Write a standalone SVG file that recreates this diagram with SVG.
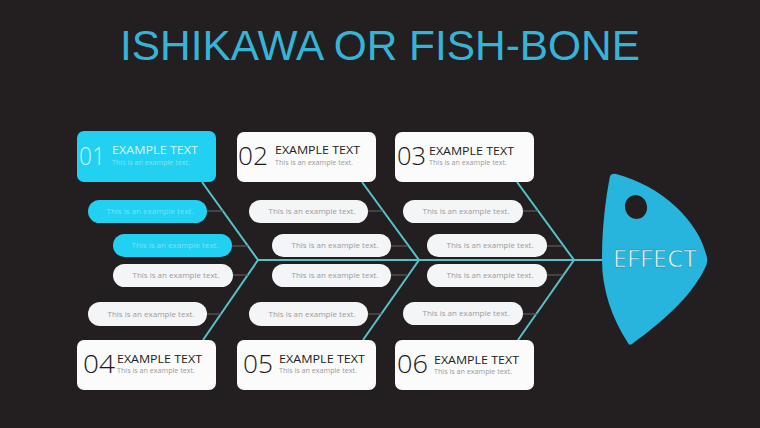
<svg xmlns="http://www.w3.org/2000/svg" width="760" height="428" viewBox="0 0 760 428">
<defs>
<style>
.bg{fill:#231f20}
.title{font-family:"Liberation Sans",Arial,sans-serif;font-size:42px;fill:#36b4d8}
.box{fill:#fbfbfc}
.boxc{fill:#22d0f2}
.pill{fill:#f3f5f7}
.pillc{fill:#22d0f2}
.num{font-family:"Open Sans","Noto Sans",sans-serif;font-weight:300;font-size:26px;fill:#1a1a1a}
.hd{font-family:"Open Sans","Noto Sans",sans-serif;font-size:10.5px;fill:#222}
.sub{font-family:"Open Sans","Noto Sans",sans-serif;font-size:7.5px;fill:#9a9a9a}
.pt{font-family:"Open Sans","Noto Sans",sans-serif;font-size:8px;fill:#9c9c9c;text-anchor:middle}
.ptc{font-family:"Open Sans","Noto Sans",sans-serif;font-size:8px;fill:#7fe2f6;text-anchor:middle}
.bone{stroke:#55c3cb;stroke-width:2;fill:none}
.tick{stroke:#5a5a5a;stroke-width:1.2}
</style>
</defs>
<rect class="bg" x="0" y="0" width="760" height="428"/>
<text class="title" x="380" y="60" text-anchor="middle" textLength="520" lengthAdjust="spacingAndGlyphs">ISHIKAWA OR FISH-BONE</text>

<g id="connectors">
<polyline class="bone" points="202,182 258,260 203,340"/>
<polyline class="bone" points="362,182 419,260 363,340"/>
<polyline class="bone" points="517,182 574,260 518,340"/>
<line class="bone" x1="258" y1="260" x2="604" y2="260"/>
<line class="tick" x1="207" y1="211" x2="223" y2="211"/>
<line class="tick" x1="232" y1="246" x2="248" y2="246"/>
<line class="tick" x1="233" y1="275" x2="248" y2="275"/>
<line class="tick" x1="207" y1="314" x2="221" y2="314"/>
<line class="tick" x1="368" y1="211" x2="383" y2="211"/>
<line class="tick" x1="391" y1="246" x2="408" y2="246"/>
<line class="tick" x1="391" y1="275" x2="408" y2="275"/>
<line class="tick" x1="368" y1="314" x2="382" y2="314"/>
<line class="tick" x1="523" y1="211" x2="538" y2="211"/>
<line class="tick" x1="547" y1="246" x2="563" y2="246"/>
<line class="tick" x1="547" y1="275" x2="563" y2="275"/>
<line class="tick" x1="523" y1="314" x2="537" y2="314"/>
</g>

<g id="box01">
<rect class="boxc" x="77" y="131" width="139" height="51" rx="7"/>
<text class="num" x="79" y="165" textLength="26" lengthAdjust="spacingAndGlyphs" style="fill:#c9f4fc">01</text>
<text class="hd" x="112" y="154" textLength="86" lengthAdjust="spacingAndGlyphs" style="fill:#d6f6fc">EXAMPLE TEXT</text>
<text class="sub" x="112" y="165" textLength="78" lengthAdjust="spacingAndGlyphs" style="fill:#80e3f5">This is an example text.</text>
</g>
<g id="box02">
<rect class="box" x="237" y="132" width="139" height="50" rx="7"/>
<text class="num" x="238" y="165" textLength="30" lengthAdjust="spacingAndGlyphs">02</text>
<text class="hd" x="275" y="154" textLength="85" lengthAdjust="spacingAndGlyphs">EXAMPLE TEXT</text>
<text class="sub" x="275" y="165" textLength="78" lengthAdjust="spacingAndGlyphs">This is an example text.</text>
</g>
<g id="box03">
<rect class="box" x="395" y="132" width="139" height="50" rx="7"/>
<text class="num" x="397" y="165" textLength="29" lengthAdjust="spacingAndGlyphs">03</text>
<text class="hd" x="429" y="155" textLength="85" lengthAdjust="spacingAndGlyphs">EXAMPLE TEXT</text>
<text class="sub" x="429" y="165" textLength="78" lengthAdjust="spacingAndGlyphs">This is an example text.</text>
</g>
<g id="box04">
<rect class="box" x="77" y="340" width="139" height="50" rx="7"/>
<text class="num" x="83" y="373" textLength="32" lengthAdjust="spacingAndGlyphs">04</text>
<text class="hd" x="117" y="363" textLength="85" lengthAdjust="spacingAndGlyphs">EXAMPLE TEXT</text>
<text class="sub" x="117" y="373" textLength="78" lengthAdjust="spacingAndGlyphs">This is an example text.</text>
</g>
<g id="box05">
<rect class="box" x="237" y="340" width="139" height="50" rx="7"/>
<text class="num" x="243" y="373" textLength="30" lengthAdjust="spacingAndGlyphs">05</text>
<text class="hd" x="279" y="363" textLength="86" lengthAdjust="spacingAndGlyphs">EXAMPLE TEXT</text>
<text class="sub" x="279" y="373" textLength="78" lengthAdjust="spacingAndGlyphs">This is an example text.</text>
</g>
<g id="box06">
<rect class="box" x="395" y="340" width="139" height="50" rx="7"/>
<text class="num" x="397" y="373" textLength="31" lengthAdjust="spacingAndGlyphs">06</text>
<text class="hd" x="434" y="364" textLength="85" lengthAdjust="spacingAndGlyphs">EXAMPLE TEXT</text>
<text class="sub" x="434" y="374" textLength="78" lengthAdjust="spacingAndGlyphs">This is an example text.</text>
</g>

<g id="pill-l1"><rect class="pillc" x="88" y="200" width="119" height="23" rx="11.5"/><text class="ptc" x="150" y="214">This is an example text.</text></g>
<g id="pill-l2"><rect class="pillc" x="113" y="234" width="119" height="23" rx="11.5"/><text class="ptc" x="175" y="248">This is an example text.</text></g>
<g id="pill-l3"><rect class="pill" x="113" y="264" width="120" height="23" rx="11.5"/><text class="pt" x="176" y="278">This is an example text.</text></g>
<g id="pill-l4"><rect class="pill" x="88" y="302" width="119" height="24" rx="12"/><text class="pt" x="151" y="317">This is an example text.</text></g>

<g id="pill-m1"><rect class="pill" x="249" y="200" width="119" height="23" rx="11.5"/><text class="pt" x="312" y="214">This is an example text.</text></g>
<g id="pill-m2"><rect class="pill" x="272" y="234" width="119" height="23" rx="11.5"/><text class="pt" x="335" y="248">This is an example text.</text></g>
<g id="pill-m3"><rect class="pill" x="272" y="264" width="119" height="23" rx="11.5"/><text class="pt" x="335" y="278">This is an example text.</text></g>
<g id="pill-m4"><rect class="pill" x="249" y="302" width="119" height="24" rx="12"/><text class="pt" x="312" y="317">This is an example text.</text></g>

<g id="pill-r1"><rect class="pill" x="403" y="200" width="120" height="23" rx="11.5"/><text class="pt" x="466" y="214">This is an example text.</text></g>
<g id="pill-r2"><rect class="pill" x="427" y="234" width="120" height="23" rx="11.5"/><text class="pt" x="490" y="248">This is an example text.</text></g>
<g id="pill-r3"><rect class="pill" x="427" y="264" width="120" height="23" rx="11.5"/><text class="pt" x="490" y="278">This is an example text.</text></g>
<g id="pill-r4"><rect class="pill" x="403" y="302" width="120" height="23" rx="11.5"/><text class="pt" x="466" y="316">This is an example text.</text></g>

<g id="effect">
<path d="M610,176 Q612,173 616,174 C662,186 700,222 707,258 Q708,264 704,270 C690,298 662,322 632,344 Q629,346 628,343 C612,318 602,290 602,260 C602,230 605,202 610,176 Z" fill="#27b5de"/>
<ellipse cx="636" cy="207" rx="11" ry="12" transform="rotate(-15 636 207)" fill="#231f20"/>
<text x="655" y="267" text-anchor="middle" font-family="'Open Sans','Noto Sans',sans-serif" font-size="23" textLength="84" lengthAdjust="spacingAndGlyphs" fill="#e3f6fa" stroke="#1a7f9a" stroke-width="0.4">EFFECT</text>
</g>
</svg>
